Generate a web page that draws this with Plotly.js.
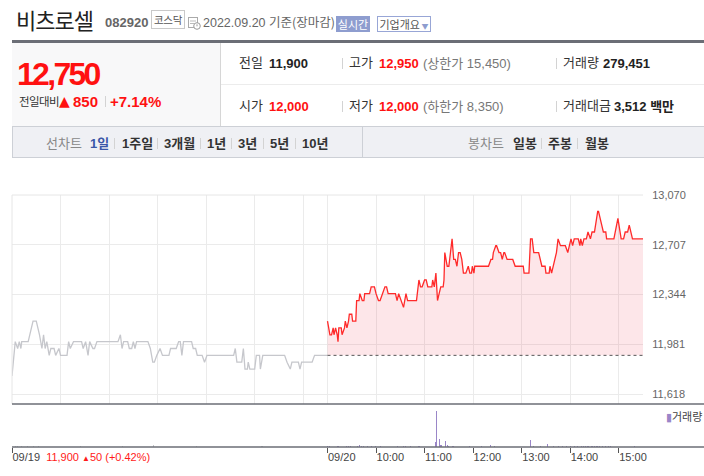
<!DOCTYPE html>
<html><head><meta charset="utf-8">
<script src="https://cdn.plot.ly/plotly-3.0.1.min.js"></script>
<style>
html,body{margin:0;padding:0;background:#fff;}
body{width:704px;height:476px;position:relative;overflow:hidden;font-family:"Liberation Sans","Noto Sans CJK KR",sans-serif;}
.t{position:absolute;white-space:nowrap;line-height:1;}
.k{font-family:"Liberation Sans","Noto Sans CJK KR",sans-serif;}
.sep{position:absolute;width:1px;background:#d3d3d3;}
.red{color:#ff1111;}
.b{font-weight:bold;}
#chart{position:absolute;left:0;top:158px;width:704px;height:318px;}
</style></head>
<body>
<!-- header -->
<div class="t" style="left:16px;top:8px;font-family:'Noto Sans CJK KR';font-size:22px;letter-spacing:-1px;color:#222;">비츠로셀</div>
<div class="t b" style="left:105px;top:15.5px;font-size:13px;color:#666;">082920</div>
<div style="position:absolute;left:151px;top:10px;width:32px;height:17px;border:1px solid #c9c9c9;font-family:'Noto Sans CJK KR';font-size:10.5px;letter-spacing:-0.3px;color:#555;line-height:17px;text-align:center;">코스닥</div>
<svg style="position:absolute;left:188px;top:16px" width="13" height="14" viewBox="0 0 13 14">
<rect x="0.5" y="1.5" width="9" height="10" fill="#fff" stroke="#aaa"/>
<line x1="2" y1="5" x2="8" y2="5" stroke="#bbb"/><line x1="2" y1="7.5" x2="6" y2="7.5" stroke="#bbb"/>
<circle cx="9" cy="10" r="3.3" fill="#fff" stroke="#999"/><line x1="9" y1="8.3" x2="9" y2="10.3" stroke="#999"/>
</svg>
<div class="t" style="left:203px;top:16px;font-size:12.5px;color:#666;">2022.09.20 <span style="font-family:'Noto Sans CJK KR';font-size:12.5px">기준(장마감)</span></div>
<div style="position:absolute;left:336px;top:16px;width:34px;height:16px;background:#8e9dcf;color:#fff;font-family:'Noto Sans CJK KR';font-size:11px;line-height:16px;text-align:center;">실시간</div>
<div style="position:absolute;left:377px;top:16px;width:52px;height:14px;border:1px solid #98a6d6;color:#555;font-family:'Noto Sans CJK KR';font-size:11px;line-height:14px;text-align:center;">기업개요<span style="color:#8e9dcf;font-size:7px;"> ▼</span></div>

<div style="position:absolute;left:12px;top:40px;width:692px;height:3px;background:#6b6e76;"></div>
<!-- info box -->
<div style="position:absolute;left:12px;top:43px;width:208px;height:83px;background:#f8f8f9;"></div>
<div style="position:absolute;left:220px;top:43px;width:1px;height:83px;background:#d6d6d6;"></div>
<div style="position:absolute;left:221px;top:84px;width:483px;height:1px;background:#ececec;"></div>

<div class="t b red" style="left:17px;top:60px;font-size:32px;line-height:28px;letter-spacing:-2.7px;">12,750</div>
<div class="t" style="left:19px;top:96px;font-family:'Noto Sans CJK KR';font-size:11.5px;letter-spacing:-0.6px;color:#333;">전일대비</div>
<div class="t red" style="left:59px;top:95px;font-family:'DejaVu Sans';font-size:14px;line-height:12px;">▲</div>
<div class="t b red" style="left:73px;top:93.5px;font-size:15px;">850</div>
<div class="sep" style="left:105px;top:96px;height:11px;"></div>
<div class="t b red" style="left:110px;top:93.5px;font-size:15px;">+7.14%</div>

<div class="t k" style="left:239px;top:56px;font-size:13px;color:#333;">전일</div>
<div class="t b" style="left:269px;top:56.5px;font-size:13px;color:#222;">11,900</div>
<div class="sep" style="left:342px;top:58px;height:11px;"></div>
<div class="t k" style="left:349px;top:56px;font-size:13px;color:#333;">고가</div>
<div class="t b red" style="left:379px;top:56.5px;font-size:13px;">12,950</div>
<div class="t k" style="left:423px;top:56.5px;font-size:13px;color:#777;">(상한가 15,450)</div>
<div class="sep" style="left:556px;top:58px;height:11px;"></div>
<div class="t k" style="left:563px;top:56px;font-size:13px;color:#333;">거래량</div>
<div class="t b" style="left:603px;top:56.5px;font-size:13px;color:#222;">279,451</div>

<div class="t k" style="left:239px;top:99px;font-size:13px;color:#333;">시가</div>
<div class="t b red" style="left:269px;top:99.5px;font-size:13px;">12,000</div>
<div class="sep" style="left:342px;top:101px;height:11px;"></div>
<div class="t k" style="left:349px;top:99px;font-size:13px;color:#333;">저가</div>
<div class="t b red" style="left:379px;top:99.5px;font-size:13px;">12,000</div>
<div class="t k" style="left:423px;top:99.5px;font-size:13px;color:#777;">(하한가 8,350)</div>
<div class="sep" style="left:556px;top:101px;height:11px;"></div>
<div class="t k" style="left:563px;top:99px;font-size:13px;color:#333;">거래대금</div>
<div class="t b" style="left:614px;top:99.5px;font-size:13px;color:#222;">3,512 <span>백만</span></div>

<!-- tab bar -->
<div style="position:absolute;left:12px;top:126px;width:691px;height:30px;background:#eff0f4;border:1px solid #cdd0d6;"></div>
<div style="position:absolute;left:362px;top:127px;width:1px;height:30px;background:#cdd0d6;"></div>
<div class="t k" style="left:46px;top:137px;font-size:13px;color:#888;">선차트</div>
<div class="t k b" style="left:90px;top:137px;font-size:13px;color:#3a58a8;">1일</div>
<div class="sep" style="left:114px;top:138px;height:11px;"></div>
<div class="t k b" style="left:122px;top:137px;font-size:13px;color:#333;">1주일</div>
<div class="sep" style="left:157px;top:138px;height:11px;"></div>
<div class="t k b" style="left:164px;top:137px;font-size:13px;color:#333;">3개월</div>
<div class="sep" style="left:200px;top:138px;height:11px;"></div>
<div class="t k b" style="left:207px;top:137px;font-size:13px;color:#333;">1년</div>
<div class="sep" style="left:231px;top:138px;height:11px;"></div>
<div class="t k b" style="left:238px;top:137px;font-size:13px;color:#333;">3년</div>
<div class="sep" style="left:263px;top:138px;height:11px;"></div>
<div class="t k b" style="left:270px;top:137px;font-size:13px;color:#333;">5년</div>
<div class="sep" style="left:295px;top:138px;height:11px;"></div>
<div class="t k b" style="left:302px;top:137px;font-size:13px;color:#333;">10년</div>
<div class="t k" style="left:468px;top:137px;font-size:13px;color:#888;">봉차트</div>
<div class="t k b" style="left:513px;top:137px;font-size:13px;color:#333;">일봉</div>
<div class="sep" style="left:541px;top:138px;height:11px;"></div>
<div class="t k b" style="left:548px;top:137px;font-size:13px;color:#333;">주봉</div>
<div class="sep" style="left:577px;top:138px;height:11px;"></div>
<div class="t k b" style="left:585px;top:137px;font-size:13px;color:#333;">월봉</div>

<div id="chart"></div>
<script>
// ---- data (minutes after 09:00 open) ----
const sessionLength = 390;
const prevClose = 11900;
const day1Min   = [0,4,7,9,11,12,14,20,26,30,34,37,39,41,43,46,48,52,54,58,60,62,68,70,72,76,86,88,91,94,96,100,102,105,131,134,136,138,143,145,148,150,152,154,168,171,174,176,179,183,186,194,196,203,206,208,210,212,222,224,227,229,235,238,241,274,276,278,284,286,288,291,292,294,300,302,306,307,310,337,340,344,346,354,356,358,371,374,390];
const day1Price = [11750,12000,11950,12000,11950,12000,12000,12000,12150,12150,12050,11950,12050,11950,12000,11900,11950,11950,11900,11950,11900,11900,11900,12000,11950,12000,12000,11950,12000,11900,12000,11950,11950,12000,12000,12050,11950,12000,12000,11950,11950,12000,11950,12000,12000,11950,11850,11850,11900,11950,11900,11900,11950,11950,12000,12000,11900,12000,12000,11950,11950,11900,11900,11850,11900,11900,11950,11850,11850,11950,11800,11800,11850,11800,11800,11900,11900,11800,11900,11900,11850,11800,11850,11850,11800,11850,11850,11900,11900];
const day2Min   = [0,3,5,7,8,10,12,13,14,17,18,21,22,24,26,27,30,31,35,36,39,40,43,45,46,52,54,58,60,63,65,68,71,73,75,84,86,88,91,94,97,99,110,113,115,117,120,122,124,129,130,132,134,136,138,140,143,144,145,148,150,152,154,156,158,160,162,164,166,168,171,174,176,178,179,181,182,199,202,204,205,208,209,212,214,216,218,219,222,229,232,242,243,249,251,253,255,261,265,269,270,274,275,277,279,283,285,288,294,297,299,301,303,305,310,312,313,315,317,320,322,325,327,330,334,335,339,341,344,345,354,357,359,363,366,368,371,373,377,390];
const day2Price = [12150,12050,12050,12100,12050,12100,12050,12000,12100,12100,12050,12100,12150,12100,12150,12200,12200,12150,12150,12300,12300,12350,12300,12300,12350,12350,12400,12400,12350,12300,12300,12350,12400,12400,12350,12350,12300,12350,12300,12250,12350,12300,12300,12450,12400,12400,12450,12450,12400,12400,12450,12400,12500,12300,12350,12400,12400,12450,12650,12550,12550,12650,12750,12600,12600,12550,12650,12650,12600,12500,12500,12550,12500,12500,12550,12500,12550,12550,12600,12600,12650,12700,12700,12650,12650,12600,12650,12650,12600,12600,12550,12550,12500,12500,12750,12750,12650,12650,12550,12550,12500,12500,12550,12500,12550,12650,12750,12700,12700,12650,12700,12750,12700,12750,12750,12700,12750,12700,12750,12750,12800,12750,12800,12800,12950,12950,12850,12800,12800,12750,12750,12850,12900,12750,12750,12800,12800,12850,12750,12750];
const vol1Min = [4,7,12,19,26,33,85,137,175,228,309];
const vol1    = [1300,1100,1300,1100,1300,1300,900,900,2200,900,900];
const vol2Min = [0,3,13,24,26,29,37,39,40,42,44,49,50,54,59,65,86,94,96,103,112,114,134,135,138,140,141,146,148,150,154,156,176,190,202,206,251,255,263,272,279,285,290,295,300,305,309,314,316,319,322,326,328,330,332,334,336,340,344,347,350,379];
const vol2    = [1300,900,900,900,900,1300,900,1300,1800,1200,1200,1200,1200,900,900,1200,900,1200,1200,900,1200,1200,4400,32000,7100,2000,2000,5600,1800,900,1200,1200,900,900,2000,900,6200,900,900,2700,900,900,900,1200,900,1200,900,1200,900,1200,900,1200,1200,1200,1200,900,900,900,900,900,900,1200];
const priceTicks = [11618,11981,12344,12707,13070];
const timeTickMin = [0,390,450,510,570,630,690,750];
const timeTickLabels = ['09/19','09/20','10:00','11:00','12:00','13:00','14:00','15:00'];
const prevDayNote = '11,900 ▲50 (+0.42%)';
const volumeLabel = '거래량';

// ---- chart ----
const fmt = v => v.toLocaleString('en-US');
const hourGrid = [];
for (let d = 0; d < 2; d++) for (let h = 0; h * 60 < sessionLength; h++) hourGrid.push(d * sessionLength + h * 60);
const day2X = day2Min.map(m => m + sessionLength);
const vol2X = vol2Min.map(m => m + sessionLength);
const tickText = timeTickLabels.slice();
tickText[0] = timeTickLabels[0] + '\u00A0 <span style="color:#ff1a1a">' + prevDayNote.replace('▲', '<span style="font-size:8px">▲</span>') + '</span>';

const volDomTop = 43 / 252;
const traces = [
  {x: day1Min, y: day1Price, type: 'scatter', mode: 'lines', line: {color: '#c6c7cc', width: 1.3}, hoverinfo: 'skip'},
  {x: [sessionLength, 2 * sessionLength], y: [prevClose, prevClose], type: 'scatter', mode: 'lines', line: {color: '#555', width: 1, dash: 'dot'}, hoverinfo: 'skip'},
  {x: day2X, y: day2Price, type: 'scatter', mode: 'lines', line: {color: '#ff2a2a', width: 1.3}, fill: 'tonexty', fillcolor: 'rgba(240,50,70,0.12)', hoverinfo: 'skip'},
  {x: vol1Min, y: vol1, type: 'bar', xaxis: 'x2', yaxis: 'y2', width: 1.3, marker: {color: '#c4c5ca', line: {width: 0}}, hoverinfo: 'skip'},
  {x: vol2X, y: vol2, type: 'bar', xaxis: 'x2', yaxis: 'y2', width: 1.3, marker: {color: '#9a86c8', line: {width: 0}}, hoverinfo: 'skip'}
];
const ext = 692 / 631;
const layout = {
  width: 704, height: 318,
  margin: {l: 12, r: 61, t: 37, b: 29},
  paper_bgcolor: 'rgba(0,0,0,0)', plot_bgcolor: 'rgba(0,0,0,0)',
  showlegend: false, bargap: 0,
  font: {family: 'Liberation Sans, Noto Sans CJK KR, sans-serif', size: 11, color: '#444'},
  xaxis: {domain: [0, 1], range: [0, 2 * sessionLength], anchor: 'y', tickvals: hourGrid, showticklabels: false, ticks: '', showgrid: true, gridcolor: '#ebebeb', gridwidth: 1, zeroline: false, showline: false, fixedrange: true},
  yaxis: {domain: [volDomTop, 1], range: [11545, 13070], side: 'right', anchor: 'x', tickvals: priceTicks, ticktext: priceTicks.map(fmt), tickfont: {size: 11, color: '#666'}, ticks: 'outside', ticklen: 6, tickcolor: 'rgba(0,0,0,0)', showgrid: true, gridcolor: '#ebebeb', zeroline: false, showline: false, fixedrange: true},
  xaxis2: {domain: [0, 1], range: [0, 2 * sessionLength], anchor: 'y2', tickvals: timeTickMin, ticktext: tickText, ticks: 'outside', ticklen: 5, tickwidth: 1, tickcolor: '#555', ticklabelposition: 'outside right', tickfont: {size: 11, color: '#444'}, showgrid: false, zeroline: false, showline: false, fixedrange: true},
  yaxis2: {domain: [0, volDomTop], range: [0, 38200], anchor: 'x2', visible: false, fixedrange: true},
  shapes: [
    {type: 'line', xref: 'paper', yref: 'paper', x0: 0, x1: 1, y0: 1, y1: 1, line: {color: '#e6e6e6', width: 1}},
    {type: 'line', xref: 'paper', yref: 'paper', x0: 0, x1: 0, y0: volDomTop, y1: 1, line: {color: '#e6e6e6', width: 1}},
    {type: 'line', xref: 'paper', yref: 'paper', x0: 0, x1: ext, y0: volDomTop, y1: volDomTop, line: {color: '#6b6e76', width: 1.5}},
    {type: 'line', xref: 'paper', yref: 'paper', x0: 0, x1: ext, y0: 0, y1: 0, line: {color: '#6b6e76', width: 1.5}}
  ],
  annotations: [
    {xref: 'paper', yref: 'paper', x: 1.034, y: 0.123, xanchor: 'left', yanchor: 'middle', showarrow: false,
     text: '<span style="color:#9a86c8">▮</span>' + volumeLabel, font: {size: 11, color: '#444', family: 'Noto Sans CJK KR'}}
  ]
};
Plotly.newPlot('chart', traces, layout, {staticPlot: true, displayModeBar: false});
</script>
</body></html>
